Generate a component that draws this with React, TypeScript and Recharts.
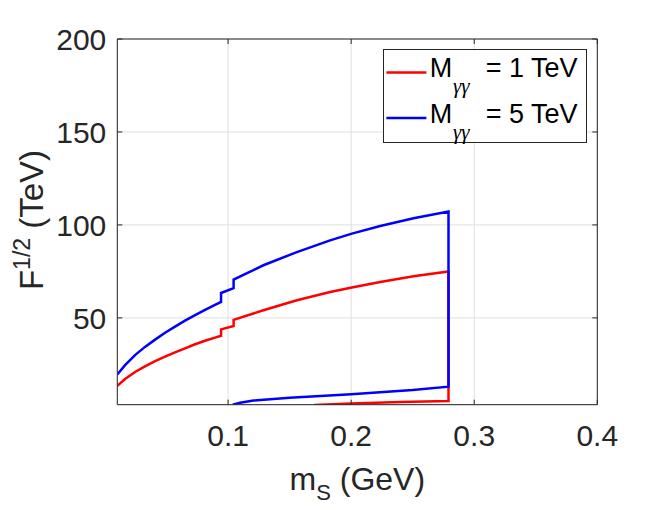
import { CartesianGrid, Legend, Line, LineChart, XAxis, YAxis } from "recharts";

const RED = "#ff0000";
const BLUE = "#0000ff";
const AXIS = "#262626";
const FONT = "'Liberation Sans', Arial, Helvetica, sans-serif";

// M_γγ of each curve (TeV)
const MASSES_TEV = [1, 5];

// upper branch, m_S in GeV (two little steps near 0.094 and 0.105)
const UPPER_X = [
  0.01, 0.0163, 0.0244, 0.0325, 0.0407, 0.0488, 0.0569, 0.065, 0.0732, 0.0813, 0.0894, 0.0943, 0.0943,
  0.1045, 0.1045, 0.1287, 0.1559, 0.1829, 0.2006, 0.2236, 0.2507, 0.2791,
];
const RED_UPPER = [
  13.4, 17.1, 20.9, 23.9, 26.7, 29.1, 31.4, 33.6, 35.8, 37.7, 39.4, 40.4, 43.8, 45.6, 48.9, 54.1, 59.5, 63.9,
  66.3, 69.3, 72.4, 75.0,
];
const BLUE_UPPER = [
  19.5, 24.6, 30.0, 34.4, 38.3, 42.0, 45.3, 48.5, 51.5, 54.3, 57.0, 58.6, 63.4, 66.0, 70.6, 78.3, 85.4, 91.7,
  95.3, 99.4, 103.6, 107.2,
];

// lower branch, walked back from the cut at 0.279
const RED_LOWER_X = [0.2791, 0.24, 0.2, 0.17];
const RED_LOWER = [5.3, 4.7, 3.9, 3.1];
const BLUE_LOWER_X = [0.2791, 0.25, 0.2, 0.15, 0.1206, 0.1098, 0.1038];
const BLUE_LOWER = [13.0, 11.2, 8.9, 7.0, 5.5, 4.4, 3.3];

const X_TICKS = [0.1, 0.2, 0.3, 0.4];
const Y_TICKS = [50, 100, 150, 200];

const toPts = (xs: number[], ys: number[]) => xs.map((x, i) => ({ x, y: ys[i] }));

const redData = [...toPts(UPPER_X, RED_UPPER), ...toPts(RED_LOWER_X, RED_LOWER)];
const blueData = [...toPts(UPPER_X, BLUE_UPPER), ...toPts(BLUE_LOWER_X, BLUE_LOWER)];

const TICK_LEN = 5;
const TICK_FS = 30;

function BottomTick(p: any) {
  const ay = p.y - 20;
  return (
    <g>
      <line x1={p.x} x2={p.x} y1={ay} y2={ay - TICK_LEN} stroke={AXIS} />
      <text x={p.x} y={p.y} dy="0.71em" textAnchor="middle" fontSize={TICK_FS} fill={AXIS} fontFamily={FONT}>
        {p.payload.value}
      </text>
    </g>
  );
}

function LeftTick(p: any) {
  const ax = p.x + 11;
  return (
    <g>
      <line x1={ax} x2={ax + TICK_LEN} y1={p.y} y2={p.y} stroke={AXIS} />
      <text x={p.x} y={p.y} dy="0.355em" textAnchor="end" fontSize={TICK_FS} fill={AXIS} fontFamily={FONT}>
        {p.payload.value}
      </text>
    </g>
  );
}

function TopTick(p: any) {
  return <line x1={p.x} x2={p.x} y1={p.y} y2={p.y + TICK_LEN} stroke={AXIS} />;
}

function RightTick(p: any) {
  return <line x1={p.x} x2={p.x - TICK_LEN} y1={p.y} y2={p.y} stroke={AXIS} />;
}

function LegendBox() {
  const colors = [RED, BLUE];
  return (
    <svg width={205} height={95} style={{ display: "block" }}>
      <rect x={0.5} y={0.5} width={203} height={93} fill="#fff" stroke={AXIS} />
      {MASSES_TEV.map((m, i) => {
        const cy = 23.4 + i * 45.6;
        return (
          <g key={m}>
            <line x1={3.4} x2={43.4} y1={cy} y2={cy} stroke={colors[i]} strokeWidth={2.5} />
            <text x={46.7} y={cy + 5} fontSize={27} fontFamily={FONT} fill="#000">
              M
            </text>
            <text
              x={70}
              y={cy + 21}
              fontSize={21}
              fontStyle="italic"
              fontFamily="'Liberation Serif', 'DejaVu Serif', serif"
              fill="#000"
            >
              γγ
            </text>
            <text x={102.7} y={cy + 5} fontSize={27} fontFamily={FONT} fill="#000">
              = {m} TeV
            </text>
          </g>
        );
      })}
    </svg>
  );
}

export default function App() {
  return (
    <div style={{ position: "absolute", left: 0, top: 0, width: 661, height: 510, background: "#fff" }}>
      <LineChart width={661} height={510} margin={{ top: 38, right: 62.7, bottom: 45.3, left: 57.3 }}>
        <CartesianGrid stroke="#dfdfdf" strokeWidth={1} />
        <XAxis
          type="number"
          dataKey="x"
          domain={[0.01, 0.4]}
          ticks={X_TICKS}
          allowDataOverflow
          height={60}
          stroke={AXIS}
          tickLine={false}
          tickSize={0}
          tickMargin={20}
          tick={BottomTick}
          label={{
            content: (props: any) => {
              const vb = props.viewBox;
              return (
                <text x={vb.x + vb.width / 2} y={vb.y + 85} textAnchor="middle" fontSize={32} fill={AXIS} fontFamily={FONT}>
                  <tspan>m</tspan>
                  <tspan dy={10} fontSize={22}>S</tspan>
                  <tspan dy={-10}> (GeV)</tspan>
                </text>
              );
            },
          }}
        />
        <XAxis
          xAxisId="top"
          orientation="top"
          type="number"
          dataKey="x"
          domain={[0.01, 0.4]}
          ticks={X_TICKS}
          allowDataOverflow
          height={1}
          stroke={AXIS}
          tickLine={false}
          tickSize={0}
          tickMargin={0}
          tick={TopTick}
        />
        <YAxis
          type="number"
          domain={[3.3, 200]}
          ticks={Y_TICKS}
          allowDataOverflow
          width={60}
          stroke={AXIS}
          tickLine={false}
          tickSize={0}
          tickMargin={11}
          tick={LeftTick}
          label={{
            content: () => (
              <text transform="translate(43, 220) rotate(-90)" textAnchor="middle" fontSize={33} fill={AXIS} fontFamily={FONT}>
                <tspan>F</tspan>
                <tspan dy={-13} fontSize={23}>1/2</tspan>
                <tspan dy={13}> (TeV)</tspan>
              </text>
            ),
          }}
        />
        <YAxis
          yAxisId="right"
          orientation="right"
          type="number"
          domain={[3.3, 200]}
          ticks={Y_TICKS}
          allowDataOverflow
          width={1}
          stroke={AXIS}
          tickLine={false}
          tickSize={0}
          tickMargin={0}
          tick={RightTick}
        />
        <Legend
          layout="vertical"
          align="center"
          verticalAlign="middle"
          wrapperStyle={{ left: 383.3, top: 49.3, width: 205 }}
          content={() => <LegendBox />}
        />
        <Line
          data={redData}
          dataKey="y"
          name={`M_γγ = ${MASSES_TEV[0]} TeV`}
          type="linear"
          stroke={RED}
          strokeWidth={2.5}
          dot={false}
          activeDot={false}
          isAnimationActive={false}
        />
        <Line
          data={blueData}
          dataKey="y"
          name={`M_γγ = ${MASSES_TEV[1]} TeV`}
          type="linear"
          stroke={BLUE}
          strokeWidth={2.5}
          dot={false}
          activeDot={false}
          isAnimationActive={false}
        />
      </LineChart>
    </div>
  );
}
